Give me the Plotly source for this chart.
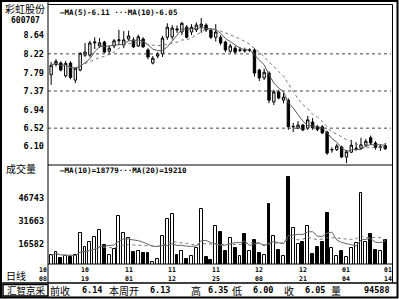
import plotly.graph_objects as go
import pandas as pd

# ---------------- data ----------------
dates = [d.strftime("%m/%d") for d in pd.bdate_range("2010-10-08", "2011-01-14")
         if d.strftime("%m/%d") != "01/03"]

opens = [7.74, 7.98, 8.01, 7.72, 8.01, 7.62, 7.85, 8.19, 8.19, 8.47,
         8.40, 8.49, 8.28, 8.40, 8.52, 8.42, 8.56, 8.54, 8.40, 8.56,
         8.31, 8.01, 8.17, 8.22, 8.60, 8.61, 8.79, 8.72, 8.83, 8.72,
         8.77, 8.85, 8.88, 8.76, 8.60, 8.60, 8.49, 8.28, 8.35, 8.30,
         8.31, 8.30, 8.31, 7.85, 7.67, 7.78, 7.12, 7.35, 7.16, 7.16,
         6.55, 6.52, 6.59, 6.52, 6.66, 6.55, 6.55, 6.43, 6.02, 6.03,
         6.09, 5.86, 5.97, 6.05, 6.06, 6.13, 6.30, 6.18, 6.08, 6.12]
highs = [8.03, 8.10, 8.05, 8.06, 8.05, 7.92, 8.26, 8.47, 8.52, 8.60,
         8.58, 8.52, 8.40, 8.56, 8.77, 8.74, 8.75, 8.60, 8.66, 8.60,
         8.35, 8.17, 8.26, 8.63, 8.92, 8.88, 8.87, 8.95, 8.88, 8.90,
         8.94, 9.04, 8.92, 8.80, 8.90, 8.65, 8.52, 8.45, 8.40, 8.38,
         8.36, 8.35, 8.35, 7.88, 7.88, 7.82, 7.40, 7.40, 7.32, 7.20,
         6.64, 6.68, 6.62, 6.80, 6.75, 6.59, 6.59, 6.46, 6.08, 6.16,
         6.12, 6.02, 6.25, 6.20, 6.30, 6.27, 6.35, 6.22, 6.15, 6.18]
lows = [7.51, 7.93, 7.82, 7.68, 7.64, 7.55, 7.82, 8.15, 8.15, 8.33,
        8.36, 8.24, 8.22, 8.35, 8.42, 8.35, 8.52, 8.35, 8.38, 8.36,
        8.10, 7.98, 8.12, 8.15, 8.54, 8.55, 8.70, 8.65, 8.57, 8.65,
        8.72, 8.70, 8.72, 8.56, 8.50, 8.42, 8.26, 8.24, 8.22, 8.26,
        8.25, 8.26, 7.70, 7.60, 7.62, 7.09, 7.05, 7.18, 7.09, 6.48,
        6.43, 6.50, 6.45, 6.48, 6.48, 6.45, 6.39, 5.91, 5.96, 6.00,
        5.84, 5.72, 5.95, 6.00, 6.03, 6.10, 6.13, 6.03, 6.00, 6.02]
closes = [7.96, 8.05, 7.85, 8.00, 7.68, 7.89, 8.23, 8.26, 8.47, 8.49,
          8.47, 8.26, 8.35, 8.52, 8.54, 8.54, 8.63, 8.38, 8.61, 8.38,
          8.15, 8.12, 8.22, 8.58, 8.83, 8.81, 8.77, 8.92, 8.60, 8.83,
          8.88, 8.90, 8.77, 8.60, 8.72, 8.47, 8.31, 8.40, 8.26, 8.31,
          8.29, 8.31, 7.78, 7.67, 7.80, 7.16, 7.35, 7.21, 7.23, 6.55,
          6.56, 6.59, 6.48, 6.71, 6.53, 6.49, 6.41, 5.95, 6.03, 6.11,
          5.86, 5.98, 6.13, 6.06, 6.14, 6.22, 6.18, 6.08, 6.09, 6.05]
volumes = [9500, 11700, 8000, 9000, 8400, 9700, 24100, 14900, 18200, 21500,
           26100, 16300, 9500, 13600, 35300, 24100, 20800, 11700, 12300, 11000,
           11000, 5100, 7000, 22100, 33300, 36600, 9700, 12300, 7100, 9000,
           14300, 39800, 8400, 6400, 28700, 24800, 12000, 20800, 14000, 9000,
           23500, 12000, 19500, 11000, 10000, 43100, 22000, 13000, 9000, 60800,
           27400, 17000, 18000, 28700, 10500, 15000, 18000, 37200, 14300, 9000,
           12000, 8400, 14300, 17500, 50300, 18200, 23500, 13000, 12000, 19500]

price_ticks = [8.64, 8.22, 7.79, 7.37, 6.94, 6.52, 6.10]
price_grid = [8.22, 7.37, 6.52]
vol_ticks = [46743, 31663, 16582]
label_dates = ["10/08", "10/19", "11/01", "11/12", "11/25", "12/08", "12/21", "01/04", "01/14"]

title_name = "彩虹股份"
stock_code = "600707"
price_legend = "—MA(5)-6.11 ···MA(10)-6.05"
vol_legend = "—MA(10)=18779···MA(20)=19210"
status_items = [("前收", 60), ("6.14", 92), ("本周开", 124), ("6.13", 160), ("高", 196),
                ("6.35", 218), ("低", 237), ("6.00", 263), ("收", 289), ("6.05", 315),
                ("量", 336), ("94588", 377)]

# ---------------- derived ----------------
x = list(range(len(dates)))
cs = pd.Series(closes)
ma5 = cs.rolling(5, min_periods=1).mean()
ma10 = cs.rolling(10, min_periods=1).mean()
vs = pd.Series(volumes)
vma10 = vs.rolling(10, min_periods=1).mean()
vma20 = vs.rolling(20, min_periods=1).mean()
up = [c >= o for o, c in zip(opens, closes)]

W, H = 399, 299
def px(v): return v / W
def py(v): return 1 - v / H

MONO = "DejaVu Sans Mono"
CJK = "Noto Sans CJK SC"

fig = go.Figure()
fig.add_trace(go.Candlestick(
    x=x, open=opens, high=highs, low=lows, close=closes,
    increasing=dict(line=dict(color="black", width=1), fillcolor="white"),
    decreasing=dict(line=dict(color="black", width=1), fillcolor="black"),
    whiskerwidth=0, xaxis="x", yaxis="y", showlegend=False, hoverinfo="skip"))
fig.add_trace(go.Scatter(x=x, y=ma5, mode="lines", line=dict(color="#555", width=1),
                         xaxis="x", yaxis="y", showlegend=False, hoverinfo="skip"))
fig.add_trace(go.Scatter(x=x, y=ma10, mode="lines", line=dict(color="#777", width=1, dash="dot"),
                         xaxis="x", yaxis="y", showlegend=False, hoverinfo="skip"))

fig.add_trace(go.Bar(x=x, y=volumes, width=0.6,
                     marker=dict(color=["white" if u else "black" for u in up],
                                 line=dict(color="black", width=1)),
                     xaxis="x2", yaxis="y2", showlegend=False, hoverinfo="skip"))
fig.add_trace(go.Scatter(x=x, y=vma10, mode="lines", line=dict(color="#666", width=1),
                         xaxis="x2", yaxis="y2", showlegend=False, hoverinfo="skip"))
fig.add_trace(go.Scatter(x=x, y=vma20, mode="lines", line=dict(color="#777", width=1, dash="dot"),
                         xaxis="x2", yaxis="y2", showlegend=False, hoverinfo="skip"))

xr = [-0.65, 70.2]
xdom = [px(48), px(391)]
fig.update_layout(
    width=W, height=H, margin=dict(l=0, r=0, t=0, b=0),
    paper_bgcolor="white", plot_bgcolor="white",
    bargap=0,
    xaxis=dict(domain=xdom, range=xr, showticklabels=False, showgrid=False, zeroline=False,
               rangeslider=dict(visible=False), anchor="y", fixedrange=True),
    yaxis=dict(domain=[py(165), py(5)], range=[5.677, 9.338], tickvals=price_ticks,
               ticktext=[f"{v:.2f}" for v in price_ticks], showgrid=False, zeroline=False,
               ticks="", ticklabelstandoff=3,
               tickfont=dict(family=MONO, size=8.5, color="black", weight="bold"), anchor="x"),
    xaxis2=dict(domain=xdom, range=xr, showticklabels=False, showgrid=False, zeroline=False,
                anchor="y2"),
    yaxis2=dict(domain=[py(264), py(165)], range=[3800, 68700], tickvals=vol_ticks,
                ticktext=[str(v) for v in vol_ticks], showgrid=False, zeroline=False,
                ticks="", ticklabelstandoff=3,
                tickfont=dict(family=MONO, size=8.5, color="black", weight="bold"), anchor="x2"),
)

shapes = []
def line(x0, y0, x1, y1, w=1, dash="solid", color="black"):
    shapes.append(dict(type="line", xref="paper", yref="paper", x0=px(x0), y0=py(y0),
                       x1=px(x1), y1=py(y1), line=dict(color=color, width=w, dash=dash)))

for g in price_grid:
    shapes.append(dict(type="line", xref="paper", yref="y", x0=px(48), x1=px(391), y0=g, y1=g,
                       line=dict(color="#444", width=1, dash="dot")))
# frame
shapes.append(dict(type="rect", xref="paper", yref="paper", x0=px(1), y0=py(297.5), x1=px(397.5), y1=py(1),
                   line=dict(color="black", width=2)))
line(48, 4.5, 392.5, 4.5)
line(392.5, 4.5, 392.5, 283)
line(48, 1, 48, 283)
line(48, 165, 392.5, 165)
line(48, 264, 392.5, 264)
line(1, 283, 397, 283, w=1.5)
shapes.append(dict(type="rect", xref="paper", yref="paper", x0=px(3), y0=py(296), x1=px(48), y1=py(284.5),
                   line=dict(color="black", width=1.5)))
fig.update_layout(shapes=shapes)

ann = []
def text(t, xx, yy, size, family, xanchor="center", bold=False):
    ann.append(dict(text=t, x=px(xx), y=py(yy), xref="paper", yref="paper", showarrow=False,
                    xanchor=xanchor, yanchor="middle",
                    font=dict(family=family, size=size, color="black",
                              weight="bold" if bold else "normal")))

text(title_name, 25, 9, 10, CJK)
text(stock_code, 25, 21, 8, MONO, bold=True)
text(price_legend, 58, 13, 7.5, MONO, xanchor="left", bold=True)
text(vol_legend, 58, 170, 7.5, MONO, xanchor="left", bold=True)
text("成交量", 21, 168, 10, CJK)
text("日线", 16, 275, 10, CJK)
text("汇智京采", 26, 290, 9.5, CJK)
for t, xx in status_items:
    if any(ch.isdigit() for ch in t):
        text(t, xx, 290, 8.5, MONO, bold=True)
    else:
        text(t, xx, 290, 10, CJK)

# date labels below volume panel
for i, d in enumerate(label_dates):
    idx = dates.index(d)
    shift = -8 if i == 0 else (3 if i == len(label_dates) - 1 else 0)
    mm, dd = d.split("/")
    for part, yy in ((mm, 270), (dd, 278.5)):
        ann.append(dict(text=part, x=idx, y=py(yy), xref="x2", yref="paper", showarrow=False,
                        xshift=shift, xanchor="center", yanchor="middle",
                        font=dict(family=MONO, size=6.5, color="black", weight="bold")))
fig.update_layout(annotations=ann)

fig.write_html("out.html")
